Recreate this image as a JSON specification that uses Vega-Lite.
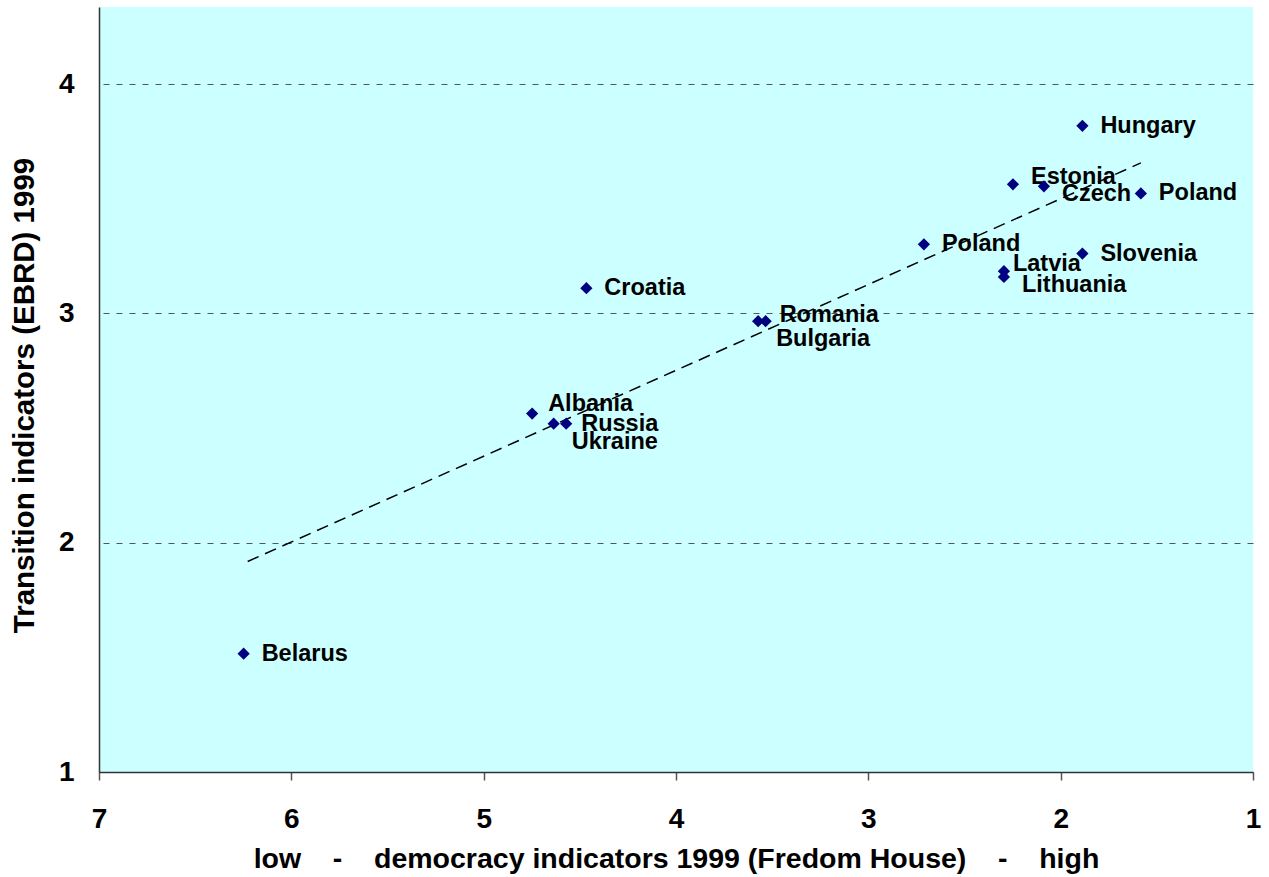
{
  "$schema": "https://vega.github.io/schema/vega-lite/v6.json",
  "autosize": {"type": "none"},
  "padding": {"left": 99, "top": 7, "right": 16, "bottom": 105},
  "width": 1154,
  "height": 765,
  "background": "white",
  "config": {
    "view": {"fill": "#CCFFFF", "stroke": null},
    "font": "Liberation Sans"
  },
  "datasets": {
    "countries": [
      {"name": "Hungary", "fh": 1.887, "ebrd": 3.818},
      {"name": "Estonia", "fh": 2.248, "ebrd": 3.563},
      {"name": "Czech", "fh": 2.087, "ebrd": 3.554},
      {"name": "Poland", "fh": 1.583, "ebrd": 3.523},
      {"name": "Poland", "fh": 2.711, "ebrd": 3.301},
      {"name": "Slovenia", "fh": 1.887, "ebrd": 3.261},
      {"name": "Latvia", "fh": 2.295, "ebrd": 3.184},
      {"name": "Lithuania", "fh": 2.295, "ebrd": 3.159},
      {"name": "Croatia", "fh": 4.466, "ebrd": 3.110},
      {"name": "Romania", "fh": 3.534, "ebrd": 2.966},
      {"name": "Bulgaria", "fh": 3.573, "ebrd": 2.966},
      {"name": "Albania", "fh": 4.748, "ebrd": 2.563},
      {"name": "Russia", "fh": 4.571, "ebrd": 2.519},
      {"name": "Ukraine", "fh": 4.636, "ebrd": 2.519},
      {"name": "Belarus", "fh": 6.248, "ebrd": 1.516}
    ],
    "trend": [
      {"fh": 6.227, "ebrd": 1.918},
      {"fh": 1.583, "ebrd": 3.656}
    ]
  },
  "encoding": {
    "x": {
      "field": "fh",
      "type": "quantitative",
      "scale": {"domain": [1, 7], "reverse": true, "nice": false, "zero": false},
      "axis": {
        "title": "low\u00a0\u00a0\u00a0\u00a0-\u00a0\u00a0\u00a0\u00a0democracy indicators 1999 (Fredom House)\u00a0\u00a0\u00a0\u00a0-\u00a0\u00a0\u00a0\u00a0high",
        "values": [1, 2, 3, 4, 5, 6, 7],
        "format": "d",
        "grid": false,
        "labelFontSize": 28,
        "labelFontWeight": "bold",
        "labelColor": "black",
        "labelFlush": false,
        "labelBaseline": "alphabetic",
        "labelPadding": 47,
        "tickSize": 8,
        "tickColor": "#555555",
        "tickWidth": 1.5,
        "domainColor": "#333333",
        "domainWidth": 1.5,
        "titleFontSize": 28.5,
        "titleFontWeight": "bold",
        "titleColor": "black",
        "titleBaseline": "alphabetic",
        "titleY": 95
      }
    },
    "y": {
      "field": "ebrd",
      "type": "quantitative",
      "scale": {"domain": [1, 4.336], "nice": false, "zero": false},
      "axis": {
        "title": "Transition indicators (EBRD) 1999",
        "values": [1, 2, 3, 4],
        "format": "d",
        "grid": true,
        "gridDash": [6, 7],
        "gridColor": "#555555",
        "gridWidth": 1,
        "ticks": false,
        "tickSize": 0,
        "labelPadding": 25,
        "labelFontSize": 28,
        "labelFontWeight": "bold",
        "labelColor": "black",
        "labelFlush": false,
        "domainColor": "#333333",
        "domainWidth": 1.5,
        "titleFontSize": 29.5,
        "titleFontWeight": "bold",
        "titleColor": "black",
        "titleAngle": 270,
        "titleAlign": "center",
        "titleBaseline": "alphabetic",
        "titleX": -66,
        "titleY": 388
      }
    }
  },
  "layer": [
    {
      "data": {"name": "countries"},
      "transform": [{"filter": {"field": "name", "oneOf": ["Hungary", "Poland", "Slovenia", "Croatia", "Belarus"]}}],
      "mark": {"type": "text", "align": "left", "baseline": "middle", "dx": 18, "dy": 0, "fontSize": 23.5, "fontWeight": "bold", "color": "black"},
      "encoding": {"text": {"field": "name"}}
    },
    {
      "data": {"name": "countries"},
      "transform": [{"filter": {"field": "name", "oneOf": ["Russia"]}}],
      "mark": {"type": "text", "align": "left", "baseline": "middle", "dx": 15, "dy": 0, "fontSize": 23.5, "fontWeight": "bold", "color": "black"},
      "encoding": {"text": {"field": "name"}}
    },
    {
      "data": {"name": "countries"},
      "transform": [{"filter": {"field": "name", "oneOf": ["Estonia"]}}],
      "mark": {"type": "text", "align": "left", "baseline": "middle", "dx": 18, "dy": -7, "fontSize": 23.5, "fontWeight": "bold", "color": "black"},
      "encoding": {"text": {"field": "name"}}
    },
    {
      "data": {"name": "countries"},
      "transform": [{"filter": {"field": "name", "oneOf": ["Czech", "Lithuania"]}}],
      "mark": {"type": "text", "align": "left", "baseline": "middle", "dx": 18, "dy": 8, "fontSize": 23.5, "fontWeight": "bold", "color": "black"},
      "encoding": {"text": {"field": "name"}}
    },
    {
      "data": {"name": "countries"},
      "transform": [{"filter": {"field": "name", "oneOf": ["Bulgaria", "Ukraine"]}}],
      "mark": {"type": "text", "align": "left", "baseline": "middle", "dx": 18, "dy": 18, "fontSize": 23.5, "fontWeight": "bold", "color": "black"},
      "encoding": {"text": {"field": "name"}}
    },
    {
      "data": {"name": "countries"},
      "transform": [{"filter": {"field": "name", "oneOf": ["Romania"]}}],
      "mark": {"type": "text", "align": "left", "baseline": "middle", "dx": 14, "dy": -6, "fontSize": 23.5, "fontWeight": "bold", "color": "black"},
      "encoding": {"text": {"field": "name"}}
    },
    {
      "data": {"name": "countries"},
      "transform": [{"filter": {"field": "name", "oneOf": ["Latvia"]}}],
      "mark": {"type": "text", "align": "left", "baseline": "middle", "dx": 9, "dy": -7, "fontSize": 23.5, "fontWeight": "bold", "color": "black"},
      "encoding": {"text": {"field": "name"}}
    },
    {
      "data": {"name": "countries"},
      "transform": [{"filter": {"field": "name", "oneOf": ["Albania"]}}],
      "mark": {"type": "text", "align": "left", "baseline": "middle", "dx": 16, "dy": -10, "fontSize": 23.5, "fontWeight": "bold", "color": "black"},
      "encoding": {"text": {"field": "name"}}
    },
    {
      "data": {"name": "trend"},
      "mark": {"type": "line", "color": "black", "strokeDash": [12, 7], "strokeWidth": 1.5},
      "encoding": {}
    },
    {
      "data": {"name": "countries"},
      "mark": {"type": "point", "shape": "diamond", "filled": true, "size": 150, "color": "#000080", "opacity": 1},
      "encoding": {}
    }
  ]
}
